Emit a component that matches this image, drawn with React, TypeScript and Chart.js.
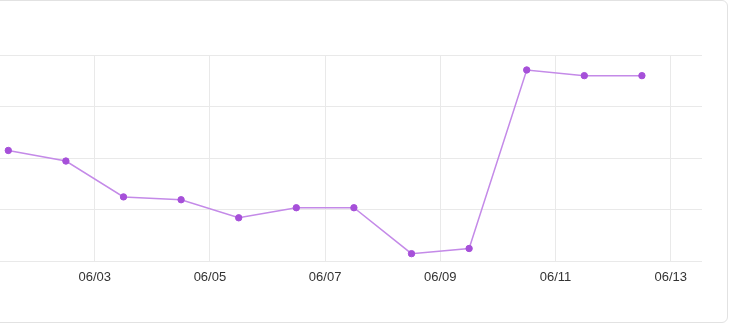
import React, { useEffect, useRef } from "react";
import { Chart, registerables } from "chart.js";

Chart.register(...registerables);

// Days (noon of each day in June)
const days = [1, 2, 3, 4, 5, 6, 7, 8, 9, 10, 11, 12];
const values = [43.0, 38.9, 25.0, 23.9, 16.9, 20.8, 20.8, 3.0, 5.0, 74.2, 72.0, 72.0];
const tickDays = [3, 5, 7, 9, 11, 13];

const pad = (n: number) => (n < 10 ? "0" + n : String(n));

export default function App() {
  const ref = useRef<HTMLCanvasElement | null>(null);

  useEffect(() => {
    if (!ref.current) return;
    const chart = new Chart(ref.current, {
      type: "line",
      data: {
        datasets: [
          {
            data: days.map((d, i) => ({ x: d + 0.5, y: values[i] })),
            borderColor: "#c48ae8",
            borderWidth: 1.5,
            pointBackgroundColor: "#a650d9",
            pointBorderColor: "#a650d9",
            pointRadius: 3.2,
            pointBorderWidth: 1,
            tension: 0,
            fill: false,
          },
        ],
      },
      options: {
        animation: false,
        responsive: false,
        maintainAspectRatio: false,
        layout: { padding: { left: 0, right: 13, top: 55, bottom: 29 } },
        plugins: { legend: { display: false }, tooltip: { enabled: false }, title: { display: false } },
        scales: {
          x: {
            type: "linear",
            min: 1.356,
            max: 13.543,
            afterBuildTicks: (scale: any) => {
              scale.ticks = tickDays.map((v) => ({ value: v }));
            },
            grid: { color: "#e9e9e9", drawTicks: false, lineWidth: 1 },
            border: { display: false },
            ticks: {
              padding: 8,
              color: "#333333",
              font: { family: "'Liberation Sans', Arial, sans-serif", size: 13 },
              maxRotation: 0,
              autoSkip: false,
              callback: (v: any) => "06/" + pad(Number(v)),
            },
          },
          y: {
            min: 0,
            max: 80,
            grid: { color: "#e9e9e9", drawTicks: false, lineWidth: 1 },
            border: { display: false },
            ticks: { display: false, stepSize: 20 },
          },
        },
      },
    } as any);
    return () => chart.destroy();
  }, []);

  return (
    <div style={{ position: "absolute", left: 0, top: 0, width: 730, height: 324, overflow: "hidden" }}>
      <div
        style={{
          position: "absolute",
          left: -20,
          top: 0,
          width: 748,
          height: 323,
          border: "1px solid #e2e2e2",
          borderRadius: 6,
          boxSizing: "border-box",
          background: "#fff",
        }}
      />
      <canvas
        ref={ref}
        width={720}
        height={322}
        style={{ position: "absolute", left: -5, top: 0, width: 720, height: 322 }}
      />
    </div>
  );
}
